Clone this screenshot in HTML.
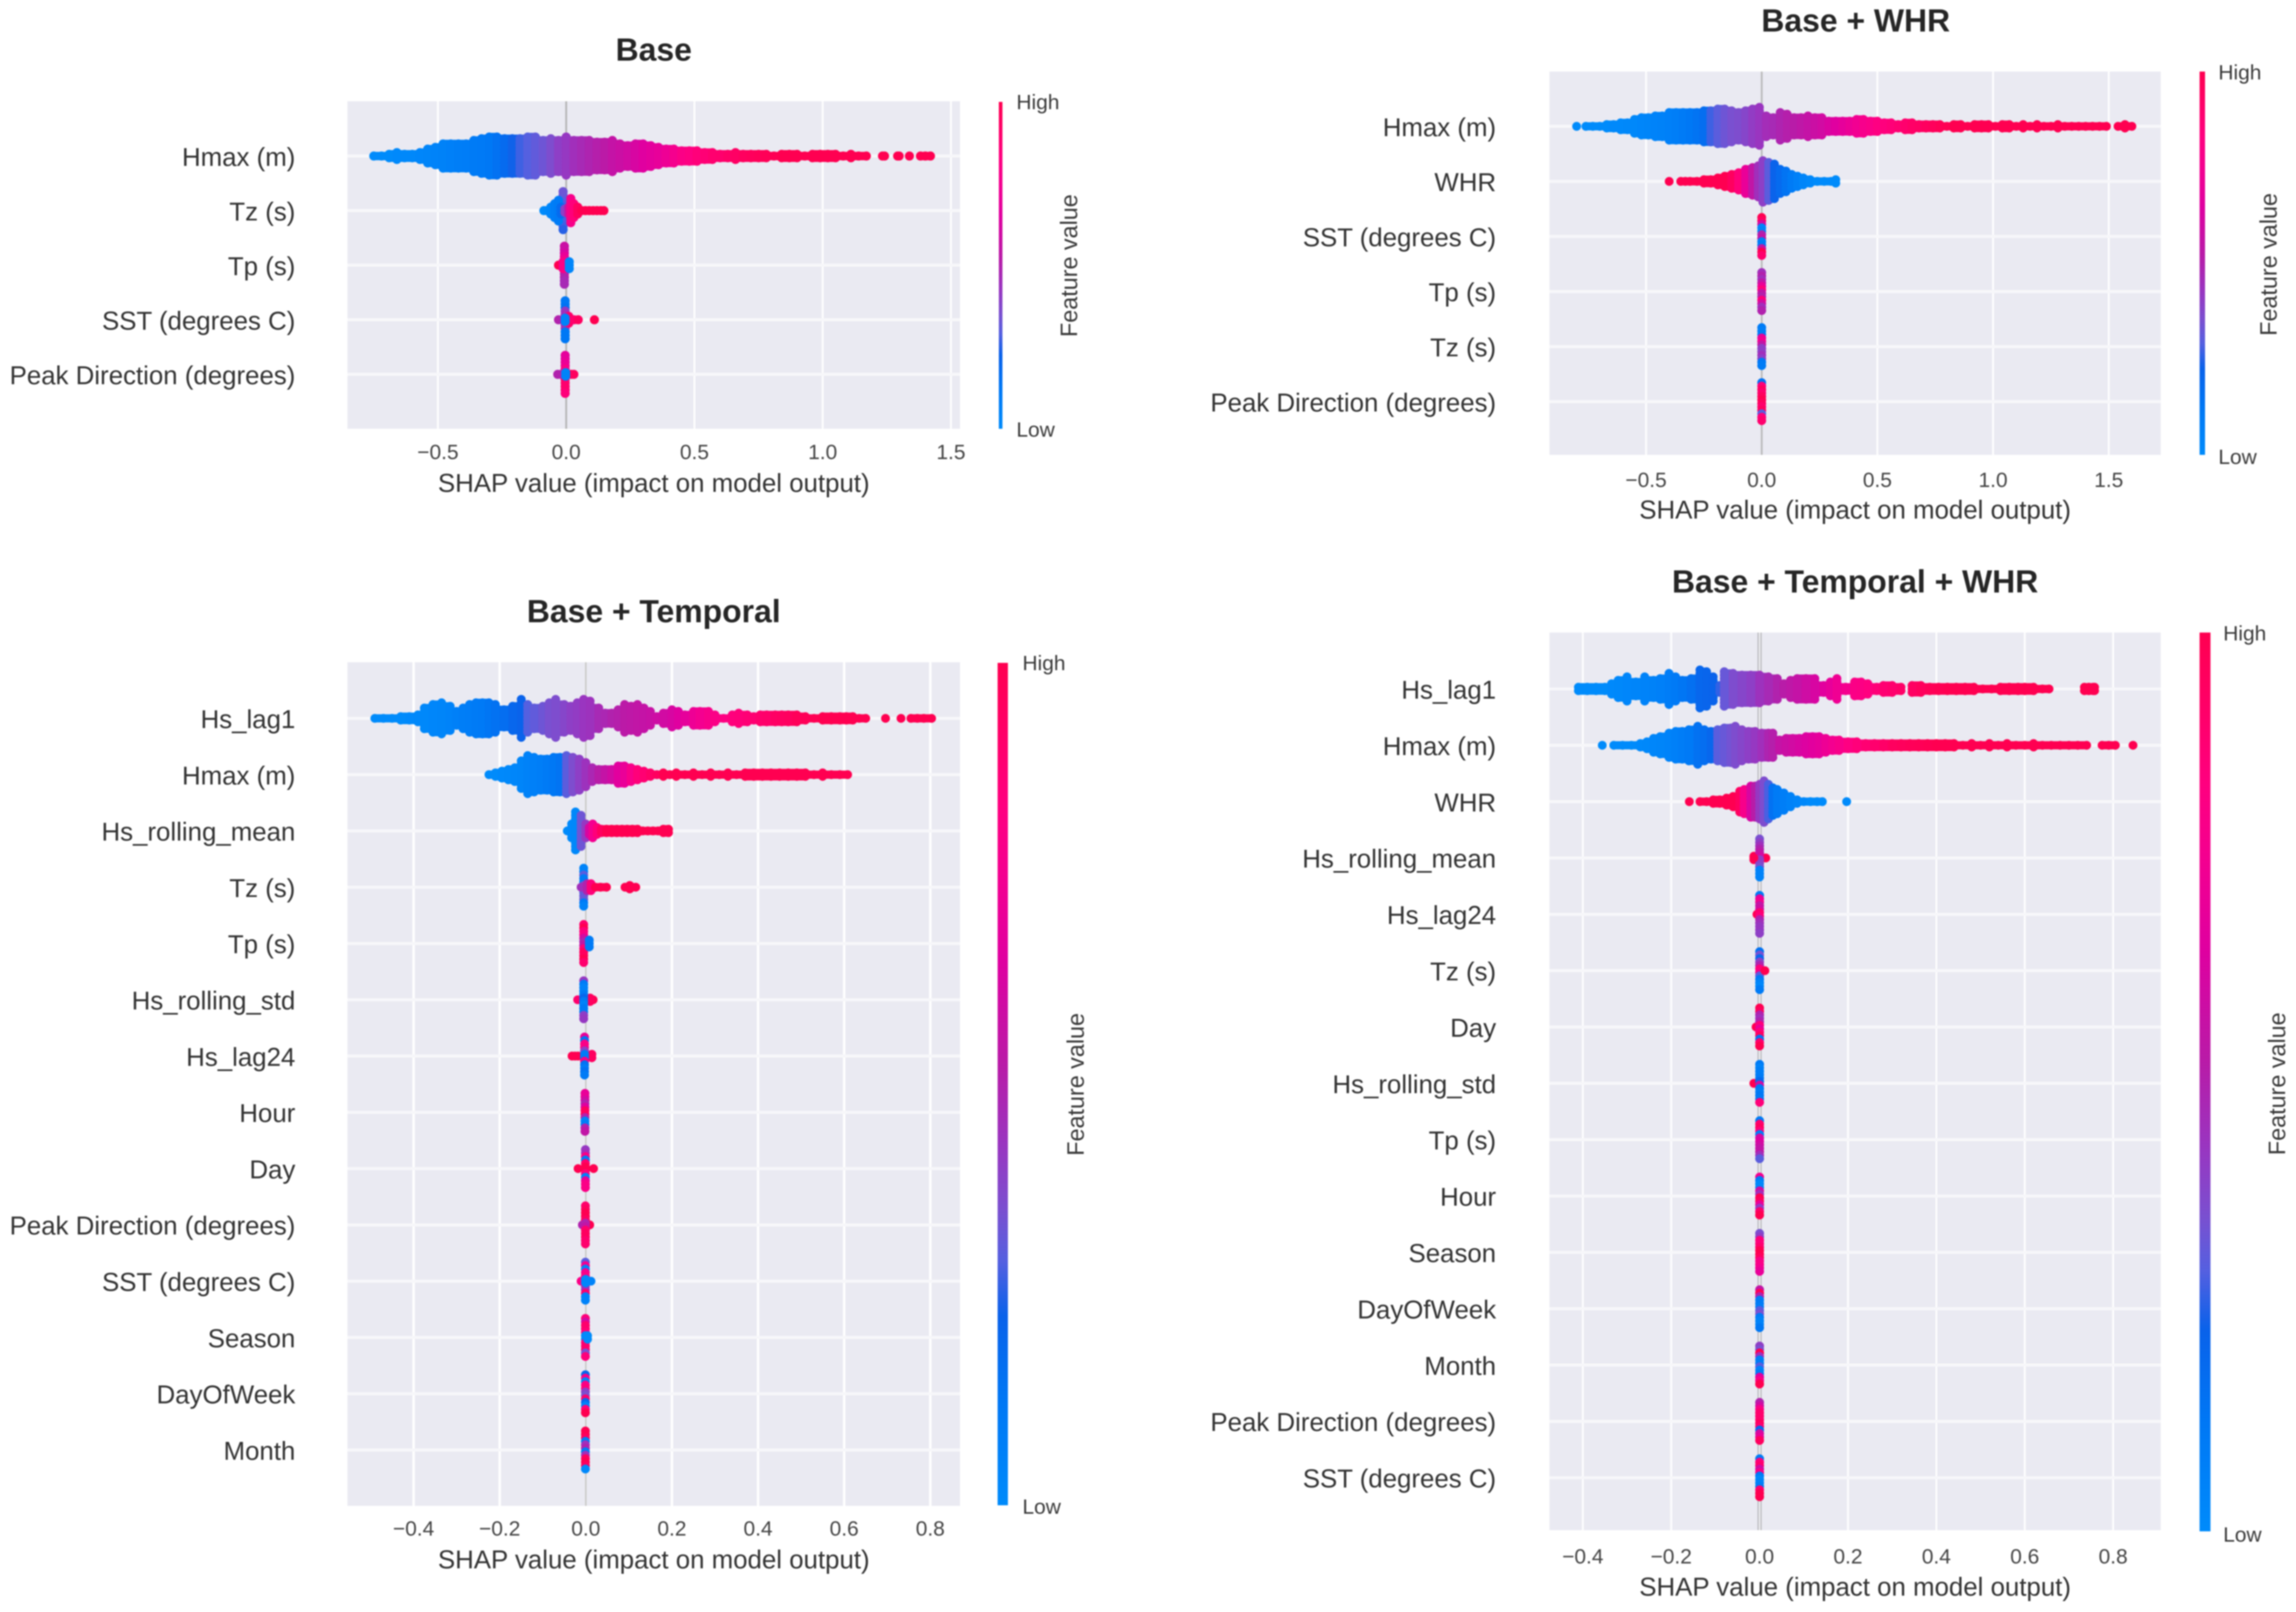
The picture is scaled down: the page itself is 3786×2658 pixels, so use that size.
<!DOCTYPE html>
<html lang="en">
<head>
<meta charset="utf-8">
<title>SHAP summary plots</title>
<style>
html,body{margin:0;padding:0;background:#fff;width:3786px;height:2658px;overflow:hidden}
svg{display:block;filter:blur(1.1px);font-family:"Liberation Sans",sans-serif}
.title{font-size:52.6px;font-weight:700;fill:#262626;text-anchor:middle}
.xlabel{font-size:42.6px;fill:#333;text-anchor:middle}
.tick{font-size:34.5px;fill:#444;text-anchor:middle}
.cat{font-size:42.6px;fill:#333;text-anchor:end}
.cb{font-size:34.5px;fill:#3a3a3a}
.fv{font-size:38.5px;fill:#3a3a3a;text-anchor:middle}
</style>
</head>
<body>
<svg id="chart" xmlns="http://www.w3.org/2000/svg" width="3786" height="2658" viewBox="0 0 3786 2658">
<defs>
<linearGradient id="cbGrad" x1="0" y1="1" x2="0" y2="0">
<stop offset="0" stop-color="#008bfb"/><stop offset=".12" stop-color="#0078f5"/><stop offset=".225" stop-color="#0a62ea"/><stop offset=".29" stop-color="#5560e0"/><stop offset=".35" stop-color="#7a50d0"/><stop offset=".43" stop-color="#9a35c0"/><stop offset=".52" stop-color="#b81ca8"/><stop offset=".65" stop-color="#e000a0"/><stop offset=".75" stop-color="#f40090"/><stop offset=".83" stop-color="#ff0080"/><stop offset="1" stop-color="#ff0051"/>
</linearGradient>
</defs>
<rect width="3786" height="2658" fill="#fff"/>

<g id="panel-base">
<text class="title" x="1078" y="100">Base</text>
<rect x="573" y="167" width="1010" height="540" fill="#eaeaf2"/>
<g class="layer"></g>
<text class="xlabel" x="1078" y="811">SHAP value (impact on model output)</text>
<rect x="1647" y="168" width="6" height="539" fill="url(#cbGrad)"/>
<text class="cb" x="1676" y="180">High</text>
<text class="cb" x="1676" y="720">Low</text>
<text class="fv" transform="translate(1776,438) rotate(-90)">Feature value</text>
</g>

<g id="panel-whr">
<text class="title" x="3060" y="52">Base + WHR</text>
<rect x="2555" y="118" width="1008" height="632" fill="#eaeaf2"/>
<g class="layer"></g>
<text class="xlabel" x="3059" y="855">SHAP value (impact on model output)</text>
<rect x="3627" y="118" width="9" height="632" fill="url(#cbGrad)"/>
<text class="cb" x="3658" y="131">High</text>
<text class="cb" x="3658" y="765">Low</text>
<text class="fv" transform="translate(3754,436) rotate(-90)">Feature value</text>
</g>

<g id="panel-temporal">
<text class="title" x="1078" y="1026">Base + Temporal</text>
<rect x="573" y="1092" width="1010" height="1391" fill="#eaeaf2"/>
<g class="layer"></g>
<text class="xlabel" x="1078" y="2586">SHAP value (impact on model output)</text>
<rect x="1645" y="1093" width="17" height="1389" fill="url(#cbGrad)"/>
<text class="cb" x="1686" y="1105">High</text>
<text class="cb" x="1686" y="2496">Low</text>
<text class="fv" transform="translate(1787,1788) rotate(-90)">Feature value</text>
</g>

<g id="panel-all">
<text class="title" x="3059" y="977">Base + Temporal + WHR</text>
<rect x="2555" y="1043" width="1008" height="1480" fill="#eaeaf2"/>
<g class="layer"></g>
<text class="xlabel" x="3059" y="2631">SHAP value (impact on model output)</text>
<rect x="3627" y="1043" width="18" height="1482" fill="url(#cbGrad)"/>
<text class="cb" x="3666" y="1056">High</text>
<text class="cb" x="3666" y="2542">Low</text>
<text class="fv" transform="translate(3768,1787) rotate(-90)">Feature value</text>
</g>
</svg>

<script>
// ---------- tick values and labels ----------
const baseTicks=[-.5,0,.5,1,1.5];
const baseTickLabels=["\u22120.5","0.0","0.5","1.0","1.5"];
const whrTicks=[-.5,0,.5,1,1.5];
const whrTickLabels=["\u22120.5","0.0","0.5","1.0","1.5"];
const temporalTicks=[-.4,-.2,0,.2,.4,.6,.8];
const temporalTickLabels=["\u22120.4","\u22120.2","0.0","0.2","0.4","0.6","0.8"];
const allTicks=[-.4,-.2,0,.2,.4,.6,.8];
const allTickLabels=["\u22120.4","\u22120.2","0.0","0.2","0.4","0.6","0.8"];

// ---------- feature categories ----------
const baseCategories=["Hmax (m)","Tz (s)","Tp (s)","SST (degrees C)","Peak Direction (degrees)"];
const whrCategories=["Hmax (m)","WHR","SST (degrees C)","Tp (s)","Tz (s)","Peak Direction (degrees)"];
const temporalCategories=["Hs_lag1","Hmax (m)","Hs_rolling_mean","Tz (s)","Tp (s)","Hs_rolling_std","Hs_lag24","Hour","Day","Peak Direction (degrees)","SST (degrees C)","Season","DayOfWeek","Month"];
const allCategories=["Hs_lag1","Hmax (m)","WHR","Hs_rolling_mean","Hs_lag24","Tz (s)","Day","Hs_rolling_std","Tp (s)","Hour","Season","DayOfWeek","Month","Peak Direction (degrees)","SST (degrees C)"];

// ---------- Base ----------
const baseHmaxShap=[-.75,-.72,-.69,-.66,-.63,-.60,-.57,-.54,-.51,-.48,
-.45,-.42,-.39,-.36,-.33,-.30,-.27,-.24,-.21,-.18,
-.15,-.12,-.09,-.06,-.03,0,.03,.06,.09,.12,
.15,.18,.21,.24,.27,.30,.33,.36,.39,.42,
.45,.48,.51,.54,.57,.60,.63,.66,.69,.72,
.75,.78,.81,.84,.87,.90,.93,.96,.99,1.02,
1.05,1.08,1.11,1.14,1.17,1.233,1.241,1.292,1.298,1.338,
1.381,1.40,1.42];
const baseHmaxCount=[1,1,2,3,2,2,3,5,6,8,
8,8,8,10,11,12,12,11,11,11,
12,12,10,11,10,12,10,10,10,9,
9,10,8,7,8,8,7,6,5,5,
4,4,4,3,3,2,2,3,2,2,
2,2,1,2,2,2,1,2,2,2,
2,1,2,1,1,1,1,1,1,1,
1,1,1];
const baseHmaxFeature=[0,0,0,.01,.02,.02,.03,.04,.05,.06,
.07,.08,.09,.1,.11,.12,.15,.18,.23,.27,
.29,.31,.33,.36,.4,.42,.45,.47,.49,.51,
.53,.56,.58,.6,.62,.65,.67,.69,.72,.76,
.8,.82,.85,.87,.89,.9,.92,.93,.95,.96,
.97,.98,.99,1,1,1,1,1,1,1,
1,1,1,1,1,1,1,1,1,1,
1,1,1];
const baseTzShap=[-.012,-.087,-.075,-.06,-.045,-.03,-.02,-.005,.01,.018,.03,.045,.06,.075,.09,.105,.12,.135,.147];
const baseTzCount=[12,1,1,3,5,7,3,2,3,8,5,3,1,1,1,1,1,1,1];
const baseTzFeature=[[.33,.33,.32,.3,.28,.2,.2,.25,.28,.28,.27,.25],0,.01,.03,.08,.1,.18,.4,.55,.78,.85,.95,1,1,1,1,1,1,1];
const baseTpShap=[-.007,-.03,-.012,.012];
const baseTpCount=[12,1,3,3];
const baseTpFeature=[[.58,.58,.62,.7,.75,.75,.6,.55,.5,.5,.47,.47],1,.8,.03];
const baseSstShap=[-.004,-.03,.01,.02,.03,.047,.11,-.004];
const baseSstCount=[12,1,3,1,1,1,1,2];
const baseSstFeature=[[.12,.12,.15,.42,.45,.45,.06,.45,.45,.12,.12,.12],.5,.9,.95,.9,.95,1,.05];
const basePeakShap=[-.004,-.033,-.02,.02,.03,-.002];
const basePeakCount=[12,1,1,1,1,2];
const basePeakFeature=[[.68,.68,.7,.72,.8,.85,.88,.9,.9,.9,.9,.85],.5,.5,.95,.95,.05];

// ---------- Base + WHR ----------
const whrHmaxShap=[-.80,-.76,-.73,-.70,-.67,-.64,-.61,-.58,-.55,-.52,
-.49,-.46,-.43,-.40,-.37,-.34,-.31,-.28,-.25,-.22,
-.19,-.16,-.13,-.10,-.07,-.04,-.01,.02,.05,.08,
.11,.14,.17,.20,.23,.26,.29,.32,.35,.38,
.41,.44,.47,.50,.53,.56,.59,.62,.65,.68,
.71,.74,.77,.80,.83,.86,.89,.92,.95,.98,
1.01,1.04,1.07,1.10,1.13,1.16,1.19,1.22,1.25,1.28,
1.31,1.34,1.37,1.40,1.43,1.46,1.49,1.54,1.57,1.60];
const whrHmaxCount=[1,1,1,1,2,2,3,3,5,6,
6,7,7,9,9,9,9,9,10,10,
11,11,10,9,10,11,12,7,6,9,
8,6,6,7,6,6,4,4,4,4,
5,5,4,4,3,3,2,3,3,2,
2,2,2,1,2,2,1,2,2,2,
1,2,2,1,2,1,2,1,1,2,
1,1,1,1,1,1,1,1,2,1];
const whrHmaxFeature=[0,0,0,0,0,.01,.01,.02,.02,.03,
.04,.05,.06,.07,.08,.1,.12,.14,.17,.27,
.3,.33,.35,.36,.38,.41,.43,.46,.47,.49,
.51,.52,.54,.56,.58,.6,.63,.65,.68,.71,
.74,.77,.79,.82,.84,.86,.88,.9,.92,.93,
.95,.96,.98,.99,1,1,1,1,1,1,
1,1,1,1,1,1,1,1,1,1,
1,1,1,1,1,1,1,1,1,1];
const whrWhrShap=[-.40,-.35,-.33,-.31,-.28,-.25,-.22,-.19,-.16,-.13,
-.10,-.07,-.04,-.015,.005,.03,.055,.08,.105,.13,
.155,.18,.21,.24,.27,.30,.32];
const whrWhrCount=[1,1,1,1,1,2,2,3,4,5,
6,8,9,10,13,12,11,8,7,5,
4,3,2,1,1,1,2];
const whrWhrFeature=[1,1,1,1,1,1,1,1,1,.95,
.85,.7,.55,.45,.4,.3,.22,.18,.14,.1,
.07,.04,.02,0,0,0,0];
const whrSstShap=[0];
const whrSstCount=[12];
const whrSstFeature=[[1,.95,.6,.03,.05,.5,.55,.08,.1,.55,1,.9]];
const whrTpShap=[0];
const whrTpCount=[12];
const whrTpFeature=[[.45,.5,.45,.55,.7,.85,.55,.5,.85,.6,.45,.5]];
const whrTzShap=[0];
const whrTzCount=[12];
const whrTzFeature=[[.1,.08,.1,.7,.75,.55,.4,.4,.45,.4,.12,.1]];
const whrPeakShap=[0];
const whrPeakCount=[12];
const whrPeakFeature=[[.15,.85,.95,.9,.95,1,.95,.9,.95,.3,.85,.9]];

// ---------- Base + Temporal ----------
const tempLag1Shap=[-.49,-.47,-.45,-.43,-.41,-.39,-.375,-.355,-.335,-.315,
-.30,-.285,-.27,-.255,-.24,-.225,-.21,-.19,-.17,-.15,
-.135,-.12,-.10,-.085,-.07,-.05,-.035,-.02,-.005,.01,
.03,.045,.06,.075,.09,.105,.12,.135,.15,.165,
.18,.20,.215,.23,.25,.265,.285,.30,.32,.34,
.355,.375,.39,.405,.42,.44,.455,.47,.49,.51,
.53,.55,.57,.59,.605,.62,.635,.65,.696,.732,
.755,.77,.785,.803];
const tempLag1Count=[1,1,1,2,2,3,7,9,10,8,
5,7,9,10,10,10,9,6,8,12,
9,7,8,10,12,9,8,10,12,11,
7,4,4,6,9,8,9,7,5,2,
4,6,5,3,5,5,5,3,1,3,
4,3,2,3,3,3,3,3,3,2,
1,2,2,2,2,2,1,1,1,1,
1,1,1,1];
const tempLag1Feature=[0,0,0,0,.01,.02,.02,.03,.04,.05,
.07,.08,.09,.1,.11,.13,.15,.17,.2,.22,
.29,.31,.33,.35,.36,.38,.4,.41,.43,.44,
.47,.48,.5,.51,.53,.54,.55,.56,.57,.59,
.6,.62,.65,.68,.72,.75,.78,.8,.82,.84,
.85,.87,.88,.9,.91,.93,.94,.95,.97,.98,
.99,1,1,1,1,1,1,1,1,1,
1,1,1,1];
const tempHmaxShap=[-.225,-.21,-.195,-.18,-.165,-.15,-.135,-.12,-.105,-.09,
-.075,-.06,-.045,-.03,-.015,0,.015,.03,.045,.06,
.075,.09,.105,.12,.135,.15,.165,.18,.195,.21,
.23,.25,.27,.29,.31,.33,.35,.37,.39,.41,
.43,.45,.47,.49,.51,.53,.55,.57,.59,.608];
const tempHmaxCount=[1,2,3,4,5,9,12,11,10,10,
11,11,12,11,10,8,5,4,4,4,
6,6,5,4,3,2,1,2,1,2,
1,2,1,2,1,2,1,2,2,2,
2,2,2,2,2,1,2,1,1,1];
const tempHmaxFeature=[0,0,.01,.02,.03,.04,.06,.07,.08,.1,
.12,.14,.3,.36,.4,.44,.48,.52,.56,.6,
.66,.7,.78,.85,.88,.92,.95,1,1,1,
1,1,1,1,1,1,1,1,1,1,
1,1,1,1,1,1,1,1,1,1];
const tempMeanShap=[-.043,-.033,-.024,-.011,0,.008,.016,.026,.036,.048,.06,.072,.084,.096,.108,.12,.132,.144,.156,.168,.18,.192];
const tempMeanCount=[1,5,12,10,5,3,5,3,2,2,2,2,2,2,2,2,1,1,1,1,2,2];
const tempMeanFeature=[0,.01,.02,.33,.42,.62,.75,.85,.95,1,1,1,1,1,1,1,1,1,1,1,1,1];
const tempTzShap=[-.005,-.011,.003,.012,.022,.034,.048,.091,.102,.116];
const tempTzCount=[12,1,3,3,1,1,1,1,2,1];
const tempTzFeature=[[.05,.05,.3,.1,.1,.35,.4,.3,.32,.32,.1,.05],.45,.5,.85,1,1,1,1,1,1];
const tempTpShap=[-.005,.008];
const tempTpCount=[12,3];
const tempTpFeature=[[.9,1,.85,.8,.6,.5,.55,.85,.95,.95,1,.9],.1];
const tempStdShap=[-.019,.017,.010,-.005];
const tempStdCount=[1,1,2,12];
const tempStdFeature=[.9,1,.95,[.42,.1,.05,.05,.1,.2,.1,.05,.1,.1,.4,.42]];
const tempLag24Shap=[-.032,-.025,-.018,.014,-.003];
const tempLag24Count=[1,1,1,2,12];
const tempLag24Feature=[1,1,1,.95,[.7,.15,.8,.8,.4,.1,.1,.8,.15,.1,.15,.1]];
const tempHourShap=[-.002];
const tempHourCount=[12];
const tempHourFeature=[[.7,.7,.6,.5,.65,.95,.95,.5,.05,.08,.5,.55]];
const tempDayShap=[-.018,.018,-.001];
const tempDayCount=[1,1,12];
const tempDayFeature=[1,1,[.42,.45,.8,.1,.9,1,1,.85,.05,.7,.8,.8]];
const tempPeakShap=[.009,-.008,-.001];
const tempPeakCount=[1,1,12];
const tempPeakFeature=[1,.5,[.9,.95,1,1,.95,.5,.55,.9,.95,.95,.9,.9]];
const tempSstShap=[-.011,.012,-.001,0];
const tempSstCount=[1,1,12,2];
const tempSstFeature=[.8,.05,[.3,.75,.05,.75,.8,.05,.05,.45,.45,.9,.05,.05],.03];
const tempSeasonShap=[-.001,.004];
const tempSeasonCount=[12,2];
const tempSeasonFeature=[[.85,.6,.9,.9,.85,.02,.02,.85,.9,.9,.35,.85],0];
const tempDowShap=[-.001];
const tempDowCount=[12];
const tempDowFeature=[[.2,.8,.05,.8,.85,.4,.35,.9,.2,.05,.85,1]];
const tempMonthShap=[-.001];
const tempMonthCount=[12];
const tempMonthFeature=[[1,1,.95,.1,.45,.5,.1,.45,.95,1,.95,.02]];

// ---------- Base + Temporal + WHR ----------
const allLag1Shap=[-.41,-.39,-.37,-.35,-.335,-.32,-.30,-.28,-.26,-.24,
-.225,-.205,-.19,-.175,-.155,-.135,-.12,-.105,-.09,-.08,
-.06,-.04,-.02,0,.02,.04,.055,.07,.085,.105,
.125,.145,.16,.175,.195,.215,.23,.245,.265,.28,
.30,.32,.345,.365,.385,.405,.425,.445,.465,.485,
.505,.525,.545,.565,.585,.60,.62,.64,.655,.735,
.745,.755,.758];
const allLag1Count=[2,2,2,2,4,6,8,5,8,6,
7,10,8,6,7,12,11,8,3,11,
10,9,9,9,8,7,4,6,7,7,
7,3,5,7,2,5,5,4,2,3,
3,2,3,3,2,2,2,2,2,2,
1,1,2,2,2,2,2,1,1,2,
2,2,2];
const allLag1Feature=[0,0,0,0,.01,.02,.03,.04,.05,.06,
.07,.09,.11,.13,.16,.2,.21,.22,.26,.32,
.36,.38,.4,.44,.47,.5,.52,.54,.56,.59,
.62,.66,.69,.73,.76,.8,.81,.83,.86,.88,
.9,.92,.94,.96,.98,.99,1,1,1,1,
1,1,1,1,1,1,1,1,1,1,
1,1,1];
const allHmaxShap=[-.356,-.33,-.31,-.29,-.27,-.255,-.24,-.225,-.205,-.19,
-.175,-.16,-.14,-.125,-.11,-.095,-.08,-.065,-.055,-.04,
-.025,-.01,.005,.02,.03,.045,.06,.075,.09,.105,
.12,.135,.15,.165,.18,.20,.22,.24,.26,.28,
.30,.32,.34,.36,.38,.40,.42,.44,.46,.48,
.50,.52,.54,.56,.58,.60,.62,.64,.66,.68,
.70,.72,.74,.775,.79,.805,.845];
const allHmaxCount=[1,1,1,1,2,3,5,6,8,9,
9,10,12,10,9,10,11,11,12,10,
9,9,8,8,8,4,5,5,5,6,
6,6,5,4,4,3,3,2,2,2,
2,2,2,2,2,2,2,2,1,2,
1,2,1,2,1,1,2,1,1,1,
1,1,1,1,1,1,1];
const allHmaxFeature=[0,0,0,0,.01,.02,.03,.04,.05,.07,
.09,.11,.15,.17,.2,.3,.32,.34,.36,.38,
.4,.42,.45,.49,.51,.56,.58,.6,.62,.64,
.66,.68,.72,.75,.78,.82,.85,.88,.9,.92,
.95,.96,.97,.98,.99,1,1,1,1,1,
1,1,1,1,1,1,1,1,1,1,
1,1,1,1,1,1,1];
const allWhrShap=[-.159,-.135,-.12,-.105,-.09,-.075,-.06,-.045,-.035,-.02,
-.01,0,.01,.02,.03,.04,.055,.07,.085,.10,
.115,.13,.142,.197];
const allWhrCount=[1,1,1,2,2,3,4,7,8,10,
10,11,13,11,9,8,6,4,2,1,
1,1,1,1];
const allWhrFeature=[1,1,1,1,1,1,1,.95,.78,.62,
.52,.42,.36,.28,.15,.1,.08,.06,.04,.02,
0,0,0,0];
const allMeanShap=[-.013,.014,0,-.013];
const allMeanCount=[2,1,12,1];
const allMeanFeature=[1,1,[.35,.4,.45,.5,.55,.6,.4,.4,.35,.05,.05,.05],1];
const allLag24Shap=[-.006,0];
const allLag24Count=[1,12];
const allLag24Feature=[1,[.1,.7,.75,.55,.6,.9,.85,.5,.45,.42,.42,.4]];
const allTzShap=[0,.012];
const allTzCount=[12,1];
const allTzFeature=[[.15,.35,.2,.4,.5,.85,.8,.3,.1,.05,.02,.1],1];
const allDayShap=[-.008,0];
const allDayCount=[1,12];
const allDayFeature=[1,[1,.95,.5,.45,.5,.85,.7,.85,.95,.15,.9,1]];
const allStdShap=[-.013,0];
const allStdCount=[1,12];
const allStdFeature=[1,[.1,.05,.08,.08,.1,.2,.6,.12,.08,.12,.1,.85]];
const allTpShap=[0];
const allTpCount=[12];
const allTpFeature=[[.1,.9,.95,.85,.08,.6,.65,.6,.55,.55,.45,.3]];
const allHourShap=[0];
const allHourCount=[12];
const allHourFeature=[[.75,.1,.02,.02,.6,.45,1,.95,.7,.42,.9,1]];
const allSeasonShap=[0];
const allSeasonCount=[12];
const allSeasonFeature=[[.35,.4,.85,.85,.9,1,1,.95,.8,.8,.75,.7]];
const allDowShap=[0];
const allDowCount=[12];
const allDowFeature=[[.55,.98,.5,.08,.1,.08,.3,.35,.1,.05,.05,.12]];
const allMonthShap=[0];
const allMonthCount=[12];
const allMonthFeature=[[.4,.35,1,.45,.08,.1,.3,.05,.1,.65,.8,1]];
const allPeakShap=[0];
const allPeakCount=[12];
const allPeakFeature=[[.5,.6,.8,.9,.9,.9,.95,.9,.2,.6,.7,.95]];
const allSstShap=[0];
const allSstCount=[12];
const allSstFeature=[[.1,.85,.9,.6,.8,.1,.02,.05,.08,.9,1,1]];

// ---------- colormap ----------
const colorPositions=[0,.12,.225,.29,.35,.43,.52,.65,.75,.83,1];
const colorValues=[[0,139,251],[0,120,245],[10,98,234],[85,96,224],[122,80,208],[154,53,192],[184,28,168],[224,0,160],[244,0,144],[255,0,128],[255,0,81]];
function featureColor(t){
  t=Math.max(0,Math.min(1,t));
  let i=0;
  while(i<colorPositions.length-2&&t>colorPositions[i+1])i++;
  const f=(t-colorPositions[i])/(colorPositions[i+1]-colorPositions[i]);
  const a=colorValues[i],b=colorValues[i+1];
  return 'rgb('+Math.round(a[0]+(b[0]-a[0])*f)+','+Math.round(a[1]+(b[1]-a[1])*f)+','+Math.round(a[2]+(b[2]-a[2])*f)+')';
}

// ---------- layout (not data) ----------
const layouts=[
 {id:'panel-base',left:573,right:1583,top:167,bottom:707,domain:[-.8525,1.5352],rowFirst:257.3,rowStep:90,r:7.5,tickY:757,gridW:3,zeroW:3,zeroC:'#b4b4b4',zeroInner:0,
  ticks:baseTicks,tickLabels:baseTickLabels,categories:baseCategories,catRight:487,
  rows:[[baseHmaxShap,baseHmaxCount,baseHmaxFeature],[baseTzShap,baseTzCount,baseTzFeature],[baseTpShap,baseTpCount,baseTpFeature],[baseSstShap,baseSstCount,baseSstFeature],[basePeakShap,basePeakCount,basePeakFeature]]},
 {id:'panel-whr',left:2555,right:3563,top:118,bottom:750,domain:[-.9174,1.7248],rowFirst:208.3,rowStep:90.8,r:7.3,tickY:803,gridW:3,zeroW:3,zeroC:'#bbbbbb',zeroInner:0,
  ticks:whrTicks,tickLabels:whrTickLabels,categories:whrCategories,catRight:2467,
  rows:[[whrHmaxShap,whrHmaxCount,whrHmaxFeature],[whrWhrShap,whrWhrCount,whrWhrFeature],[whrSstShap,whrSstCount,whrSstFeature],[whrTpShap,whrTpCount,whrTpFeature],[whrTzShap,whrTzCount,whrTzFeature],[whrPeakShap,whrPeakCount,whrPeakFeature]]},
 {id:'panel-temporal',left:573,right:1583,top:1092,bottom:2483,domain:[-.5535,.8690],rowFirst:1184.5,rowStep:92.8,r:7.3,tickY:2532,gridW:4,zeroW:3,zeroC:'#c9c9c9',zeroInner:0,
  ticks:temporalTicks,tickLabels:temporalTickLabels,categories:temporalCategories,catRight:487,
  rows:[[tempLag1Shap,tempLag1Count,tempLag1Feature],[tempHmaxShap,tempHmaxCount,tempHmaxFeature],[tempMeanShap,tempMeanCount,tempMeanFeature],[tempTzShap,tempTzCount,tempTzFeature],[tempTpShap,tempTpCount,tempTpFeature],[tempStdShap,tempStdCount,tempStdFeature],[tempLag24Shap,tempLag24Count,tempLag24Feature],[tempHourShap,tempHourCount,tempHourFeature],[tempDayShap,tempDayCount,tempDayFeature],[tempPeakShap,tempPeakCount,tempPeakFeature],[tempSstShap,tempSstCount,tempSstFeature],[tempSeasonShap,tempSeasonCount,tempSeasonFeature],[tempDowShap,tempDowCount,tempDowFeature],[tempMonthShap,tempMonthCount,tempMonthFeature]]},
 {id:'panel-all',left:2555,right:3563,top:1043,bottom:2523,domain:[-.4755,.9078],rowFirst:1136,rowStep:92.9,r:7.3,tickY:2578,gridW:3,zeroW:7,zeroC:'#bcbcc0',zeroInner:2.5,
  ticks:allTicks,tickLabels:allTickLabels,categories:allCategories,catRight:2467,
  rows:[[allLag1Shap,allLag1Count,allLag1Feature],[allHmaxShap,allHmaxCount,allHmaxFeature],[allWhrShap,allWhrCount,allWhrFeature],[allMeanShap,allMeanCount,allMeanFeature],[allLag24Shap,allLag24Count,allLag24Feature],[allTzShap,allTzCount,allTzFeature],[allDayShap,allDayCount,allDayFeature],[allStdShap,allStdCount,allStdFeature],[allTpShap,allTpCount,allTpFeature],[allHourShap,allHourCount,allHourFeature],[allSeasonShap,allSeasonCount,allSeasonFeature],[allDowShap,allDowCount,allDowFeature],[allMonthShap,allMonthCount,allMonthFeature],[allPeakShap,allPeakCount,allPeakFeature],[allSstShap,allSstCount,allSstFeature]]}
];
const DOT_GAP=5.7;
const MAX_JOIN_PX=14.8;
const NS='http://www.w3.org/2000/svg';

function makeLine(parent,x1,y1,x2,y2,color,width){
  const ln=document.createElementNS(NS,'line');
  ln.setAttribute('x1',x1);ln.setAttribute('y1',y1);ln.setAttribute('x2',x2);ln.setAttribute('y2',y2);
  ln.setAttribute('stroke',color);ln.setAttribute('stroke-width',width);
  parent.appendChild(ln);
  return ln;
}

layouts.forEach(function(p){
  const root=document.getElementById(p.id);
  const layer=root.querySelector('.layer');
  const xScale=function(v){return p.left+(v-p.domain[0])/(p.domain[1]-p.domain[0])*(p.right-p.left);};
  const yScale=function(i){return p.rowFirst+i*p.rowStep;};

  p.ticks.forEach(function(v,i){
    const x=xScale(v);
    const grid=makeLine(layer,x,p.top,x,p.bottom,'#ffffff',p.gridW);
    
    
    const t=document.createElementNS(NS,'text');
    t.setAttribute('class','tick');
    t.setAttribute('x',x);
    t.setAttribute('y',p.tickY);
    t.textContent=p.tickLabels[i];
    
    
    root.appendChild(t);
  });

  p.categories.forEach(function(c,i){
    const y=yScale(i);
    const rowLine=makeLine(layer,p.left,y,p.right,y,'#f7f7fa',5);
    
    
    const t=document.createElementNS(NS,'text');
    t.setAttribute('class','cat');
    t.setAttribute('x',p.catRight);
    t.setAttribute('y',y+16);
    t.textContent=c;
    
    
    root.appendChild(t);
  });

  const zx=xScale(0);
  const zero=makeLine(layer,zx,p.top,zx,p.bottom,p.zeroC,p.zeroW);
  
  
  if(p.zeroInner){
    const inner=makeLine(layer,zx,p.top,zx,p.bottom,'#f2f2f5',p.zeroInner);
    
    
  }

  p.rows.forEach(function(row,ri){
    const g=document.createElementNS(NS,'g');
    
    
    layer.appendChild(g);
    const shap=row[0],count=row[1],feature=row[2];
    const cy=yScale(ri);
    shap.forEach(function(v,j){
      const n=count[j],f=feature[j];
      for(let k=0;k<n;k++){
        const dot=document.createElementNS(NS,'circle');
        dot.setAttribute('cx',xScale(v));
        dot.setAttribute('cy',cy+(k-(n-1)/2)*DOT_GAP);
        dot.setAttribute('r',p.r);
        dot.setAttribute('fill',featureColor(Array.isArray(f)?f[k]:f));
        
        
        g.appendChild(dot);
      }
      // close the hairline notches between touching columns of the swarm
      if(j+1<shap.length&&!Array.isArray(f)&&!Array.isArray(feature[j+1])){
        const x1=xScale(v),x2=xScale(shap[j+1]);
        if(x2>x1&&x2-x1<=MAX_JOIN_PX){
          const hh=(Math.min(n,count[j+1])-1)/2*DOT_GAP+p.r*.92;
          const fill=document.createElementNS(NS,'rect');
          fill.setAttribute('x',x1);
          fill.setAttribute('y',cy-hh);
          fill.setAttribute('width',x2-x1);
          fill.setAttribute('height',hh*2);
          fill.setAttribute('fill',featureColor(f));
          
          
          g.appendChild(fill);
        }
      }
    });
  });
});
</script>
</body>
</html>
